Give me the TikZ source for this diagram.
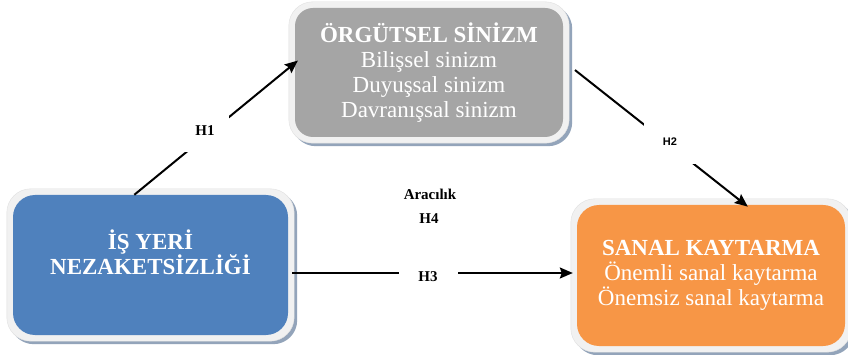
\documentclass[tikz,border=0pt]{standalone}
\usepackage{fontspec}
\setmainfont{Liberation Serif}
\newfontfamily\labsans{Liberation Sans}
\usetikzlibrary{arrows.meta,calc}
\pgfdeclarelayer{bg}
\pgfsetlayers{bg,main}
\definecolor{cblue}{HTML}{4F81BD}
\definecolor{cgrey}{HTML}{A5A5A5}
\definecolor{corange}{HTML}{F79646}
\definecolor{cring}{HTML}{F1F1F1}
\definecolor{cringedge}{HTML}{E0E0E0}
\definecolor{cshadow}{HTML}{93A4BA}
\begin{document}
\begin{tikzpicture}[x=1pt,y=-1pt,
  mainbox/.style={rounded corners=18pt, inner sep=0pt, text=white, align=center, font=\fontsize{23}{25}\selectfont},
  arr/.style={line width=2pt, -{Stealth[length=13pt,width=11pt,inset=2pt]}},
  lab/.style={font=\bfseries\fontsize{15}{17}\selectfont, inner sep=0pt},
  gap/.style={fill=white}
]
\useasboundingbox (0,0) rectangle (848,355);

\node[mainbox, fill=cgrey, minimum width=268pt, minimum height=129pt] (org) at (429,72.5)
  {\textbf{ÖRGÜTSEL SİNİZM}\\Bilişsel sinizm\\Duyuşsal sinizm\\Davranışsal sinizm};
\node[mainbox, fill=cblue, minimum width=275pt, minimum height=140pt, rounded corners=22pt] (nez) at (150.5,265)
  {\textbf{İŞ YERİ}\\\textbf{NEZAKETSİZLİĞİ}\\\mbox{}};
\node[mainbox, fill=corange, minimum width=268pt, minimum height=141pt, rounded corners=22pt] (sk) at (711,275.5)
  {\textbf{SANAL KAYTARMA}\\Önemli sanal kaytarma\\Önemsiz sanal kaytarma};

\begin{pgfonlayer}{bg}
\fill[white] (0,0) rectangle (848,355);
\foreach \n in {org,nez,sk} {
  \fill[cshadow, rounded corners=24pt] ([shift={(-3pt,3pt)}]\n.north west) rectangle ([shift={(9pt,-9pt)}]\n.south east);
  \filldraw[fill=cring, draw=cringedge, rounded corners=24pt] ([shift={(-6pt,6pt)}]\n.north west) rectangle ([shift={(6pt,-6pt)}]\n.south east);
}
\end{pgfonlayer}

\draw[arr, shorten >=-4pt] (nez.103) -- (org.176);
\draw[arr, shorten <=15pt, shorten >=-3pt] (org.5) -- (sk.64);
\coordinate (h3s) at ([yshift=-8pt]nez.east);
\draw[arr, shorten <=4pt, shorten >=4pt] (h3s) -- (h3s -| sk.west);

\node[lab, gap, minimum width=48pt, minimum height=42pt] (h1) at (205,131) {H1};
\node[gap, font=\labsans\bfseries\fontsize{11}{13}\selectfont, inner sep=0pt, minimum width=52pt, minimum height=44pt] (h2) at (670,142) {H2};
\node[lab, gap, minimum width=59pt, minimum height=18pt] (h3) at (428,277) {H3};
\node[lab] (h4) at (429,219) {H4};
\node[lab] (ar) at (430,194) {Aracılık};
\end{tikzpicture}
\end{document}
